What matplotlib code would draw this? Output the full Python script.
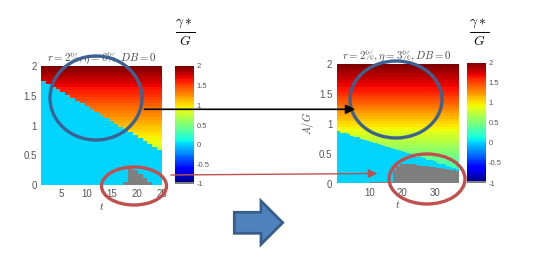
"""
两幅热力图对比 (r=2%, eta=6% vs eta=3%) 及幻灯片上的标注
"""

import numpy as np
import matplotlib.pyplot as plt
from matplotlib.colors import ListedColormap
from matplotlib.patches import Ellipse, Polygon

plt.rcParams['mathtext.fontset'] = 'cm'
plt.rcParams['font.family'] = ['Liberation Sans', 'DejaVu Sans']

W, H = 546, 270

# ---- 数据 ----
ag_edges = np.linspace(0, 2, 201)          # A/G 网格
ag_centers = (ag_edges[:-1] + ag_edges[1:]) / 2

# 左图: eta = 6%
left_t = np.arange(1, 26)
left_boundary = [1.74, 1.69, 1.64, 1.60, 1.55, 1.50, 1.45, 1.40, 1.36, 1.31,
                 1.26, 1.21, 1.16, 1.12, 1.07, 1.02, 0.97, 0.93, 0.88, 0.83,
                 0.78, 0.73, 0.69, 0.64, 0.59]
left_gray = [0, 0, 0, 0, 0, 0, 0, 0, 0, 0,
             0, 0, 0, 0, 0, 0, 0, 0.05, 0.30, 0.25,
             0.18, 0.12, 0.05, 0, 0]
left_levels = [0.0, 0.7, 1.04, 1.55, 2.0]
left_values = [0.25, 0.88, 1.16, 1.60, 2.0]

# 右图: eta = 3%
right_t = np.arange(0, 37)
right_boundary = [0.86, 0.84, 0.83, 0.81, 0.79, 0.77, 0.76, 0.74, 0.72, 0.70,
                  0.69, 0.67, 0.65, 0.64, 0.62, 0.60, 0.58, 0.57, 0.55, 0.53,
                  0.51, 0.50, 0.48, 0.46, 0.44, 0.43, 0.41, 0.39, 0.38, 0.36,
                  0.34, 0.32, 0.31, 0.29, 0.27, 0.25, 0.24]
right_gray = [0, 0, 0, 0, 0, 0, 0, 0, 0, 0,
              0.02, 0.02, 0.02, 0.02, 0.02, 0.02, 0.02, 0.22, 0.29, 0.31,
              0.32, 0.32, 0.31, 0.31, 0.30, 0.29, 0.29, 0.28, 0.27, 0.26,
              0.25, 0.25, 0.24, 0.23, 0.22, 0.21, 0.20]
right_levels = [0.0, 0.39, 0.88, 1.2, 1.51, 2.0]
right_values = [0.05, 0.40, 0.90, 1.25, 1.60, 2.0]

cyan_value = 0.0
gray_value = -1.0
cbar_ticks = [-1, -0.5, 0, 0.5, 1, 1.5, 2]
cbar_labels = ['-1', '-0.5', '0', '0.5', '1', '1.5', '2']


def build_grid(boundary, gray, levels, values):
    grad = np.interp(ag_centers, levels, values)
    grid = np.empty((len(ag_centers), len(boundary)))
    for j in range(len(boundary)):
        col = np.where(ag_centers < boundary[j], cyan_value, grad)
        col = np.where(ag_centers < gray[j], gray_value, col)
        grid[:, j] = col
    return grid


def px_axes(fig, x0, y0, x1, y1):
    return fig.add_axes([x0 / W, 1 - y1 / H, (x1 - x0) / W, (y1 - y0) / H])


# jet(64) 最低一档换成灰色
jet = plt.get_cmap('jet', 64)(np.arange(64))
jet[0] = [0.5, 0.5, 0.5, 1]
cmap = ListedColormap(jet)

fig = plt.figure(figsize=(W / 100, H / 100), dpi=100)
tick_col = '#555555'


def draw_panel(ax_box, cax_box, t, grid, xlim, xticks, title, ylabel=None):
    ax = px_axes(fig, *ax_box)
    im = ax.imshow(grid, origin='lower', aspect='auto', cmap=cmap, vmin=-1, vmax=2,
                   extent=(xlim[0], xlim[1], 0, 2), interpolation='nearest')
    ax.set_xlim(*xlim)
    ax.set_ylim(0, 2)
    ax.set_xticks(xticks)
    ax.set_yticks([0, 0.5, 1, 1.5, 2])
    ax.set_yticklabels(['0', '0.5', '1', '1.5', '2'])
    ax.tick_params(labelsize=7, colors=tick_col, length=0, pad=3)
    for s in ax.spines.values():
        s.set_visible(False)
    ax.set_title(title, fontsize=7.8, color='#444444', pad=2)
    ax.set_xlabel(r'$t$', fontsize=7.5, color='#444444', labelpad=1)
    if ylabel:
        ax.set_ylabel(ylabel, fontsize=7.5, color='#444444', labelpad=2)
    cax = px_axes(fig, *cax_box)
    cb = fig.colorbar(im, cax=cax, ticks=cbar_ticks)
    cb.ax.set_yticklabels(cbar_labels)
    cb.ax.tick_params(labelsize=5.5, colors=tick_col, length=0, pad=2)
    cb.outline.set_visible(False)
    return ax


draw_panel((41.3, 66, 162, 185), (175, 66, 193.5, 184),
           left_t, build_grid(left_boundary, left_gray, left_levels, left_values),
           (1, 25), [5, 10, 15, 20, 25], r'$r=2\%,\eta=6\%,DB=0$')
draw_panel((336.5, 64, 458, 183.5), (467, 62.5, 486, 183),
           right_t, build_grid(right_boundary, right_gray, right_levels, right_values),
           (0, 37), [10, 20, 30], r'$r=2\%,\eta=3\%,DB=0$', ylabel=r'$A/G$')

# 色条标题 gamma*/G
for cx in (185, 479):
    fig.text(cx / W, 1 - 33 / H, r'$\frac{\gamma *}{G}$', fontsize=14,
             ha='center', va='center', color='black')

# ---- 幻灯片标注 ----
ov = fig.add_axes([0, 0, 1, 1])
ov.set_xlim(0, W)
ov.set_ylim(H, 0)
ov.axis('off')
ov.set_zorder(10)
ov.patch.set_alpha(0)

blue = '#3D6190'
red = '#C0504D'
ov.add_patch(Ellipse((96, 98), 92, 84, fill=False, ec=blue, lw=2.4))
ov.add_patch(Ellipse((396, 99.5), 92, 77, fill=False, ec=blue, lw=2.4))
ov.add_patch(Ellipse((134, 186), 65, 38, fill=False, ec=red, lw=2.4))
ov.add_patch(Ellipse((427, 179), 76, 50, fill=False, ec=red, lw=2.4))

ov.annotate('', xy=(358, 109.3), xytext=(141.7, 109.3),
            arrowprops=dict(arrowstyle='-|>', color='black', lw=1.2, mutation_scale=14))
ov.annotate('', xy=(380, 173.5), xytext=(168, 175),
            arrowprops=dict(arrowstyle='-|>', color=red, lw=1.0, mutation_scale=13))

block = [(234.3, 212.3), (261, 212.3), (261, 201), (282.7, 222.7),
         (261, 244.3), (261, 233.3), (234.3, 233.3)]
ov.add_patch(Polygon(block, closed=True, fc='#4F81BD', ec='#385D8A', lw=2))

fig.savefig('out.png', dpi=100)
plt.close(fig)
